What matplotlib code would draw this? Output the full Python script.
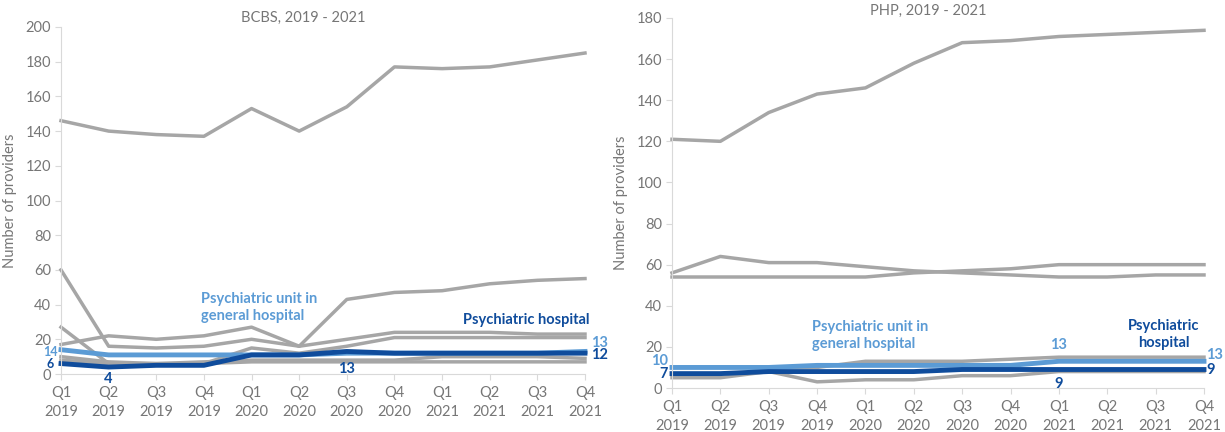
import matplotlib
matplotlib.use("Agg")
import matplotlib.pyplot as plt

plt.rcParams['font.family'] = ['Lato', 'DejaVu Sans']

quarters = ["Q1\n2019", "Q2\n2019", "Q3\n2019", "Q4\n2019",
            "Q1\n2020", "Q2\n2020", "Q3\n2020", "Q4\n2020",
            "Q1\n2021", "Q2\n2021", "Q3\n2021", "Q4\n2021"]

# BCBS
bcbs_gray = [
    [146, 140, 138, 137, 153, 140, 154, 177, 176, 177, 181, 185],
    [17, 22, 20, 22, 27, 16, 43, 47, 48, 52, 54, 55],
    [60, 16, 15, 16, 20, 16, 20, 24, 24, 24, 23, 23],
    [27, 6, 6, 6, 15, 12, 16, 21, 21, 21, 21, 21],
    [10, 7, 6, 7, 8, 8, 8, 8, 10, 10, 10, 9],
    [8, 6, 5, 6, 7, 7, 7, 7, 7, 7, 7, 7],
]
bcbs_unit = [14, 11, 11, 11, 11, 11, 12, 12, 12, 12, 12, 13]
bcbs_hosp = [6, 4, 5, 5, 11, 11, 13, 12, 12, 12, 12, 12]

# PHP
php_gray = [
    [121, 120, 134, 143, 146, 158, 168, 169, 171, 172, 173, 174],
    [56, 64, 61, 61, 59, 57, 56, 55, 54, 54, 55, 55],
    [54, 54, 54, 54, 54, 56, 57, 58, 60, 60, 60, 60],
    [10, 10, 10, 10, 13, 13, 13, 14, 15, 15, 15, 15],
    [5, 5, 8, 3, 4, 4, 6, 6, 8, 8, 8, 8],
]
php_unit = [10, 10, 10, 11, 11, 11, 11, 11, 13, 13, 13, 13]
php_hosp = [7, 7, 8, 8, 8, 8, 9, 9, 9, 9, 9, 9]

GRAY = "#a6a6a6"
LIGHT = "#5b9bd5"
DARK = "#0f4c9c"
TXT = "#767676"

fig = plt.figure(figsize=(12.25, 4.32), dpi=100)
axL = fig.add_axes([61/1225, 1-374/432, 524/1225, 347/432])
axR = fig.add_axes([672/1225, 1-388/432, 532/1225, 370/432])

x = list(range(len(quarters)))


def style(ax, ymax):
    ax.set_xlim(0, len(quarters)-1)
    ax.set_ylim(0, ymax)
    ax.set_yticks(range(0, ymax+1, 20))
    ax.set_xticks(x)
    ax.set_xticklabels(quarters, fontsize=10.5, color=TXT, linespacing=1.45)
    ax.tick_params(axis='y', labelsize=10.5, labelcolor=TXT, color="#d9d9d9", length=4, pad=3)
    ax.tick_params(axis='x', color="#d9d9d9", length=4, pad=5)
    for s in ['top', 'right']:
        ax.spines[s].set_visible(False)
    for s in ['left', 'bottom']:
        ax.spines[s].set_color("#d9d9d9")
    ax.set_ylabel("Number of providers", fontsize=10.5, color=TXT, labelpad=6)


for g in bcbs_gray:
    axL.plot(x, g, color=GRAY, lw=2.5, clip_on=False)
axL.plot(x, bcbs_unit, color=LIGHT, lw=3.5, clip_on=False)
axL.plot(x, bcbs_hosp, color=DARK, lw=3.5, clip_on=False)
style(axL, 200)
fig.text(303/1225, 1-18/432, "BCBS, 2019 - 2021", ha='center', va='center', fontsize=10.5, color=TXT)

lbl = dict(fontsize=10.5, fontweight='bold', va='center')
small = dict(fontsize=9, fontweight='bold', va='center')
axL.text(-0.07, bcbs_unit[0]-1.4, str(bcbs_unit[0]), color=LIGHT, ha='right', **small)
axL.text(-0.16, bcbs_hosp[0]-0.4, str(bcbs_hosp[0]), color=DARK, ha='right', **small)
axL.text(1, bcbs_hosp[1]-7, str(bcbs_hosp[1]), color=DARK, ha='center', **lbl)
axL.text(6, bcbs_hosp[6]-10, str(bcbs_hosp[6]), color=DARK, ha='center', **lbl)
axL.text(11.12, bcbs_unit[11]+5, str(bcbs_unit[11]), color=LIGHT, ha='left', **lbl)
axL.text(11.12, bcbs_hosp[11]-1, str(bcbs_hosp[11]), color=DARK, ha='left', **lbl)
axL.text(2.93, 38.3, "Psychiatric unit in\ngeneral hospital", color=LIGHT, fontsize=10.5, fontweight='bold',
         ha='left', va='center', linespacing=1.3)
axL.text(11.1, 31, "Psychiatric hospital", color=DARK, fontsize=10.5, fontweight='bold', ha='right', va='center')

for g in php_gray:
    axR.plot(x, g, color=GRAY, lw=2.5, clip_on=False)
axR.plot(x, php_unit, color=LIGHT, lw=3.5, clip_on=False)
axR.plot(x, php_hosp, color=DARK, lw=3.5, clip_on=False)
style(axR, 180)
fig.text(928/1225, 1-11/432, "PHP, 2019 - 2021", ha='center', va='center', fontsize=10.5, color=TXT)

axR.text(-0.08, php_unit[0]+3, str(php_unit[0]), color=LIGHT, ha='right', **lbl)
axR.text(-0.08, php_hosp[0], str(php_hosp[0]), color=DARK, ha='right', **lbl)
axR.text(8, php_unit[8]+8, str(php_unit[8]), color=LIGHT, ha='center', **lbl)
axR.text(8, php_hosp[8]-7, str(php_hosp[8]), color=DARK, ha='center', **lbl)
axR.text(11.04, php_unit[11]+3, str(php_unit[11]), color=LIGHT, ha='left', **lbl)
axR.text(11.04, php_hosp[11], str(php_hosp[11]), color=DARK, ha='left', **lbl)
axR.text(2.9, 25.5, "Psychiatric unit in\ngeneral hospital", color=LIGHT, fontsize=10.5, fontweight='bold',
         ha='left', va='center', linespacing=1.3)
axR.text(10.17, 26, "Psychiatric\nhospital", color=DARK, fontsize=10.5, fontweight='bold',
         ha='center', va='center', linespacing=1.3)

fig.savefig("out.png", dpi=100)
